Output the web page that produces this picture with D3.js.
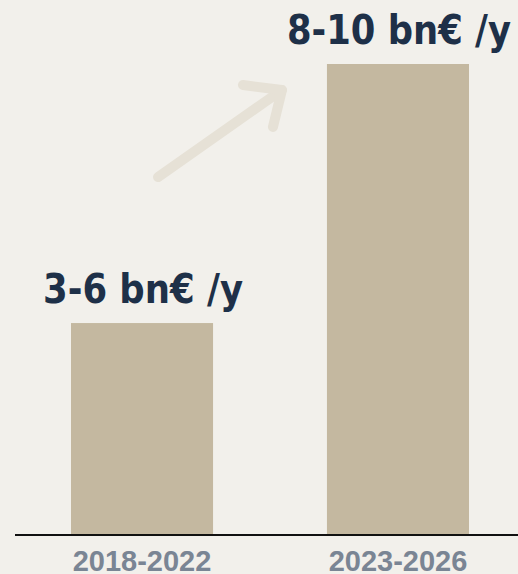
<!DOCTYPE html>
<html>
<head>
<meta charset="utf-8">
<script src="https://cdn.jsdelivr.net/npm/d3@7"></script>
<style>
  html, body { margin: 0; padding: 0; background: #f2f0eb; }
  svg { display: block; }
</style>
</head>
<body>
<script>
// Investment periods and annual volumes (bn€ per year)
const periods = ["2018-2022", "2023-2026"];
const values = [4.5, 10];
const valueLabels = ["3-6 bn€ /y", "8-10 bn€ /y"];

const W = 518, H = 574;
const svg = d3.select("body").append("svg").attr("width", W).attr("height", H);

svg.append("rect").attr("width", W).attr("height", H).attr("fill", "#f2f0eb");

const baseY = 535;
const x = d3.scaleBand().domain(periods).range([71, 469]).paddingInner(0.445).paddingOuter(0);
const y = d3.scaleLinear().domain([0, 10]).range([baseY, 64]);

// Growth arrow between the two periods
const ax0 = x(periods[0]) + x.bandwidth() / 2 + 16, ay0 = y(values[0]) - 146;
const ax1 = x(periods[1]) - 45, ay1 = y(values[1]) + 26;
const arrow = svg.append("g")
  .attr("stroke", "#e6e1d6").attr("stroke-width", 10)
  .attr("stroke-linecap", "round").attr("stroke-linejoin", "round").attr("fill", "none");
arrow.append("line").attr("x1", ax0).attr("y1", ay0).attr("x2", ax1).attr("y2", ay1);
arrow.append("polyline").attr("points", [[ax1 - 39, ay1 - 5], [ax1, ay1], [ax1 - 9, ay1 + 37]].map(p => p.join(",")).join(" "));

// Bars
svg.selectAll("rect.bar").data(periods).join("rect")
  .attr("class", "bar")
  .attr("x", d => x(d))
  .attr("width", x.bandwidth())
  .attr("y", (d, i) => y(values[i]))
  .attr("height", (d, i) => baseY - y(values[i]))
  .attr("fill", "#c4b8a0");

// Baseline
svg.append("line").attr("x1", 15).attr("x2", W).attr("y1", baseY).attr("y2", baseY)
  .attr("stroke", "#111").attr("stroke-width", 2);

// Value labels above bars
const labelW = [200, 224];
svg.selectAll("text.val").data(valueLabels).join("text")
  .attr("class", "val")
  .attr("x", (d, i) => x(periods[i]) + x.bandwidth() / 2 + 1)
  .attr("y", (d, i) => y(values[i]) - 20)
  .attr("text-anchor", "middle")
  .attr("font-family", "'DejaVu Sans Condensed', 'DejaVu Sans', sans-serif")
  .attr("font-weight", "bold")
  .attr("font-size", 41)
  .attr("textLength", (d, i) => labelW[i])
  .attr("lengthAdjust", "spacingAndGlyphs")
  .attr("fill", "#1e3048")
  .text(d => d);

// Period labels under the axis
svg.selectAll("text.cat").data(periods).join("text")
  .attr("class", "cat")
  .attr("x", d => x(d) + x.bandwidth() / 2)
  .attr("y", 571)
  .attr("text-anchor", "middle")
  .attr("font-family", "'Liberation Sans', Arial, sans-serif")
  .attr("font-weight", "bold")
  .attr("font-size", 29)
  .attr("fill", "#7a8594")
  .text(d => d);
</script>
</body>
</html>
